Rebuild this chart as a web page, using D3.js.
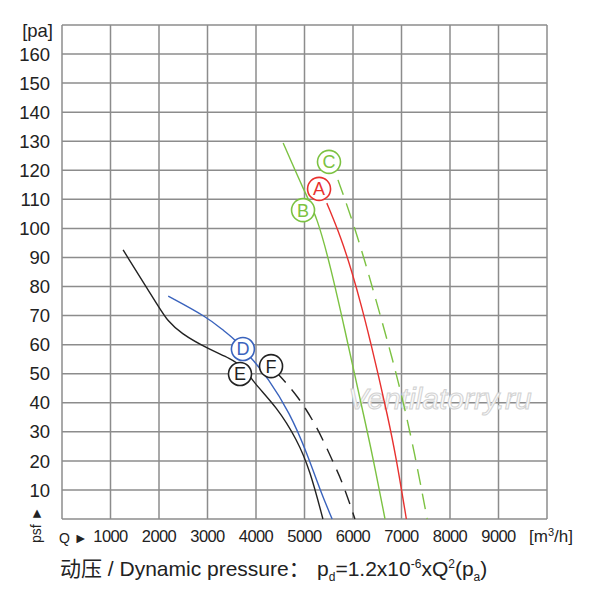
<!DOCTYPE html>
<html>
<head>
<meta charset="utf-8">
<script src="https://cdn.jsdelivr.net/npm/d3@7"></script>
<style>
  body { margin: 0; background: #fff; }
  text { font-family: "Liberation Sans", Arial, sans-serif; }
</style>
</head>
<body>
<svg id="chart" width="600" height="600"></svg>
<script>
// the data (Q in m3/h, psf in Pa)
const xTicks = [1000, 2000, 3000, 4000, 5000, 6000, 7000, 8000, 9000];
const yTicks = [10, 20, 30, 40, 50, 60, 70, 80, 90, 100, 110, 120, 130, 140, 150, 160];

const curveA = [[5460, 108.7], [5750, 97], [5980, 85], [6180, 73], [6360, 61], [6530, 49], [6700, 36.5], [6890, 21.3], [7100, 0]];
const curveB = [[4560, 129.4], [5010, 112.2], [5260, 103.9], [5540, 86.7], [5860, 63], [6030, 50], [6210, 36.5], [6410, 21.3], [6660, 0]];
const curveC = [[5690, 116.7], [6000, 102.2], [6300, 85.7], [6660, 64.3], [6930, 47.8], [7230, 26.2], [7530, 0]];
const curveD = [[2190, 76.7], [2990, 69.5], [3320, 65], [3530, 62.3], [3730, 58.5], [3940, 54.7], [4230, 48.9], [4700, 36.5], [5050, 22.7], [5320, 10], [5570, 0]];
const curveE = [[1260, 92.6], [2060, 71.2], [2170, 68.5], [2430, 64], [3050, 58.2], [3460, 55.4], [3770, 52], [3940, 47.1], [4430, 38.5], [4850, 27.2], [5110, 16.9], [5380, 0]];
const curveF = [[4420, 50.5], [4850, 42.7], [5260, 31.7], [5590, 19.6], [5790, 12.4], [6040, 0]];

const labels = ["A", "B", "C", "D", "E", "F"];
const labelPos = [[5300, 113.6], [4970, 106.3], [5505, 122.9], [3730, 58.5], [3670, 49.9], [4310, 52.6]];

// The svg
let svg = d3.select("#chart");

let x = d3.scaleLinear().domain([0, 10000]).range([62, 547]);
let y = d3.scaleLinear().domain([0, 170]).range([519, 25]);

const gridColor = "#8c8c8c";

// grid
let grid = svg.append("g");
grid.selectAll("line.v")
    .data(d3.range(0, 10001, 1000))
    .enter().append("line")
    .attr("x1", d => x(d)).attr("x2", d => x(d))
    .attr("y1", y(0)).attr("y2", y(170))
    .attr("stroke", gridColor).attr("stroke-width", 1.5);
grid.selectAll("line.h")
    .data(d3.range(0, 171, 10))
    .enter().append("line")
    .attr("y1", d => y(d)).attr("y2", d => y(d))
    .attr("x1", x(0)).attr("x2", x(10000))
    .attr("stroke", gridColor).attr("stroke-width", 1.5);

// tick labels
svg.append("g").selectAll("text")
    .data(yTicks).enter().append("text")
    .attr("x", 50).attr("y", d => y(d))
    .attr("dy", "0.36em")
    .attr("text-anchor", "end")
    .attr("font-size", 18.5)
    .attr("fill", "#222")
    .text(d => d);

svg.append("text")
    .attr("x", 53).attr("y", 37)
    .attr("text-anchor", "end")
    .attr("font-size", 18.5)
    .attr("fill", "#222")
    .text("[pa]");

svg.append("g").selectAll("text")
    .data(xTicks).enter().append("text")
    .attr("x", d => x(d)).attr("y", 542)
    .attr("text-anchor", "middle")
    .attr("font-size", 16.5)
    .attr("letter-spacing", -0.6)
    .attr("fill", "#222")
    .text(d => d);

svg.append("text")
    .attr("x", 529).attr("y", 542)
    .attr("font-size", 17)
    .attr("fill", "#222")
    .html('[m<tspan dy="-6" font-size="11">3</tspan><tspan dy="6">/h]</tspan>');

svg.append("text")
    .attr("x", 59).attr("y", 543)
    .attr("font-size", 14)
    .attr("fill", "#222")
    .text("Q \u25BA");

svg.append("text")
    .attr("transform", "translate(41,543) rotate(-90)")
    .attr("font-size", 14)
    .attr("fill", "#222")
    .text("psf \u25BA");

// bottom formula
svg.append("text")
    .attr("x", 60).attr("y", 576)
    .attr("font-size", 21)
    .attr("fill", "#222")
    .html('<tspan font-family="Noto Sans CJK SC">动压</tspan> / Dynamic pressure<tspan font-family="Noto Sans CJK SC">：</tspan>'
        + '<tspan x="317">p</tspan><tspan dy="5" font-size="12">d</tspan><tspan dy="-5">=1.2x10</tspan>'
        + '<tspan dy="-8" font-size="12">-6</tspan><tspan dy="8">xQ</tspan><tspan dy="-8" font-size="12">2</tspan>'
        + '<tspan dy="8">(p</tspan><tspan dy="5" font-size="12">a</tspan><tspan dy="-5">)</tspan>');

// watermark
svg.append("text")
    .attr("x", 440).attr("y", 409)
    .attr("text-anchor", "middle")
    .attr("font-size", 30)
    .attr("font-style", "italic")
    .attr("fill", "#fafafa")
    .attr("stroke", "#d2d2d2")
    .attr("stroke-width", 1)
    .text("Ventilatorry.ru");

// curves
let line = d3.line()
    .x(d => x(d[0]))
    .y(d => y(d[1]))
    .curve(d3.curveBasis);

const red = "#e8312f", green = "#7cc242", blue = "#3a63bd", black = "#222";

let series = [
    {data: curveB, color: green, dash: null},
    {data: curveC, color: green, dash: "16,9"},
    {data: curveA, color: red, dash: null},
    {data: curveE, color: black, dash: null},
    {data: curveF, color: black, dash: "14,9"},
    {data: curveD, color: blue, dash: null}
];

svg.append("g").selectAll("path")
    .data(series).enter().append("path")
    .attr("d", d => line(d.data))
    .attr("fill", "none")
    .attr("stroke", d => d.color)
    .attr("stroke-width", 1.4)
    .attr("stroke-dasharray", d => d.dash);

// circled labels
const labelColors = [red, green, green, blue, black, black];
let lab = svg.append("g").selectAll("g")
    .data(labels).enter().append("g")
    .attr("transform", (d, i) => `translate(${x(labelPos[i][0])},${y(labelPos[i][1])})`);
lab.append("circle")
    .attr("r", 11.5)
    .attr("fill", "#fff")
    .attr("stroke", (d, i) => labelColors[i])
    .attr("stroke-width", 1.6);
lab.append("text")
    .attr("text-anchor", "middle")
    .attr("dy", "0.36em")
    .attr("font-size", 18)
    .attr("fill", (d, i) => labelColors[i])
    .text(d => d);
</script>
</body>
</html>
